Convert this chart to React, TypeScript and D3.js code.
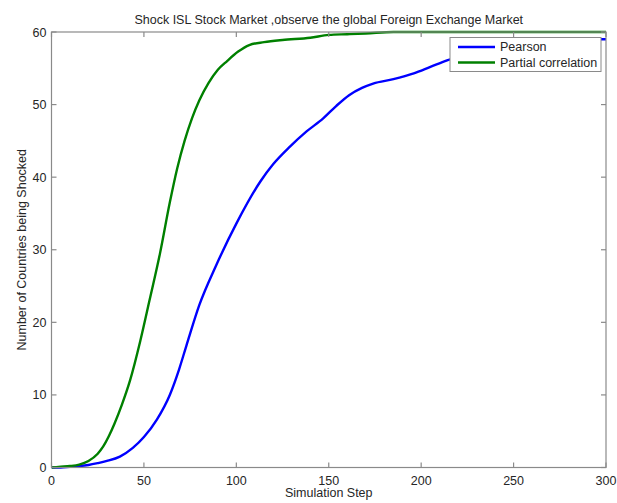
import React from "react";
import * as d3 from "d3";

const title = "Shock ISL Stock Market ,observe the global Foreign Exchange Market";
const xLabel = "Simulation Step";
const yLabel = "Number of Countries being Shocked";
const xTicks = [0, 50, 100, 150, 200, 250, 300];
const yTicks = [0, 10, 20, 30, 40, 50, 60];

const pearsonSteps = [0, 5, 10, 15, 20, 25, 30, 37, 44, 50, 57, 64, 69, 73, 80, 89, 100, 113, 120, 129, 138, 147, 154, 161, 168, 174, 185, 196, 205, 214, 230, 250, 270, 290, 300];
const pearsonValues = [0, 0, 0.1, 0.2, 0.35, 0.6, 0.9, 1.5, 2.7, 4.2, 6.6, 10, 13.5, 16.8, 22.4, 27.8, 33.6, 39.4, 41.8, 44.2, 46.3, 48.1, 49.8, 51.3, 52.3, 52.9, 53.5, 54.3, 55.2, 56.1, 57.2, 58.1, 58.6, 59, 59];

const partialSteps = [0, 5, 10, 15, 20, 25, 28, 31, 34, 38, 42.5, 48, 53, 58.7, 64, 68, 72, 76, 80, 85, 90, 95, 101, 107, 115, 125, 140, 150, 160, 170, 185, 200, 300];
const partialValues = [0, 0.1, 0.2, 0.4, 0.9, 1.9, 2.9, 4.3, 6, 8.6, 12, 17.4, 23, 29.5, 36.5, 41.2, 45, 48.1, 50.6, 53, 54.8, 56, 57.3, 58.2, 58.6, 58.9, 59.2, 59.6, 59.7, 59.8, 60, 60, 60];

const seriesNames = ["Pearson", "Partial correlation"];
const seriesColors = ["#0000ff", "#008000"];

const W = 617;
const H = 503;
const M = { left: 51.5, right: 606, top: 32, bottom: 467.5 };
const AX = "#8a8a8a";
const TXT = "#262626";
const FONT = "Arial, 'Liberation Sans', sans-serif";

export default function App() {
  const x = d3.scaleLinear().domain([0, 300]).range([M.left, M.right]);
  const y = d3.scaleLinear().domain([0, 60]).range([M.bottom, M.top]);
  const line = d3
    .line<[number, number]>()
    .x((d) => x(d[0]))
    .y((d) => y(d[1]))
    .curve(d3.curveMonotoneX);

  const series = [
    pearsonSteps.map((s, i) => [s, pearsonValues[i]] as [number, number]),
    partialSteps.map((s, i) => [s, partialValues[i]] as [number, number]),
  ];

  const tl = 5;
  const lg = { x: 450, y: 37.5, w: 151, h: 34 };

  return (
    <svg
      width={W}
      height={H}
      style={{ position: "absolute", left: 0, top: 0, background: "#fff" }}
      fontFamily={FONT}
    >
      <rect x={0} y={0} width={W} height={H} fill="#fff" />
      <defs>
        <clipPath id="plot">
          <rect x={M.left} y={M.top - 2} width={M.right - M.left} height={M.bottom - M.top + 4} />
        </clipPath>
      </defs>
      <g clipPath="url(#plot)">
        {series.map((d, i) => (
          <path key={i} d={line(d) || ""} fill="none" stroke={seriesColors[i]} strokeWidth={2.4} strokeLinejoin="round" />
        ))}
      </g>
      <rect x={M.left} y={M.top} width={M.right - M.left} height={M.bottom - M.top} fill="none" stroke={AX} strokeWidth={1.2} />
      {xTicks.map((t) => (
        <g key={"x" + t}>
          <line x1={x(t)} x2={x(t)} y1={M.bottom} y2={M.bottom - tl} stroke={AX} strokeWidth={1.2} />
          <line x1={x(t)} x2={x(t)} y1={M.top} y2={M.top + tl} stroke={AX} strokeWidth={1.2} />
          <text x={x(t)} y={M.bottom + 17} textAnchor="middle" fontSize={12.5} fill={TXT}>
            {t}
          </text>
        </g>
      ))}
      {yTicks.map((t) => (
        <g key={"y" + t}>
          <line x1={M.left} x2={M.left + tl} y1={y(t)} y2={y(t)} stroke={AX} strokeWidth={1.2} />
          <line x1={M.right} x2={M.right - tl} y1={y(t)} y2={y(t)} stroke={AX} strokeWidth={1.2} />
          <text x={M.left - 5} y={y(t) + 4.5} textAnchor="end" fontSize={12.5} fill={TXT}>
            {t}
          </text>
        </g>
      ))}
      <text x={(M.left + M.right) / 2} y={24} textAnchor="middle" fontSize={12.5} fill={TXT}>
        {title}
      </text>
      <text x={(M.left + M.right) / 2} y={497} textAnchor="middle" fontSize={12.5} fill={TXT}>
        {xLabel}
      </text>
      <text
        transform={`translate(26,${(M.top + M.bottom) / 2}) rotate(-90)`}
        textAnchor="middle"
        fontSize={12.5}
        fill={TXT}
      >
        {yLabel}
      </text>
      <rect x={lg.x} y={lg.y} width={lg.w} height={lg.h} fill="#fff" stroke={AX} strokeWidth={1} />
      {seriesNames.map((n, i) => (
        <g key={n}>
          <line x1={458} x2={495} y1={lg.y + 9.5 + i * 15.5} y2={lg.y + 9.5 + i * 15.5} stroke={seriesColors[i]} strokeWidth={2.4} />
          <text x={500} y={lg.y + 13.8 + i * 15.5} fontSize={12.5} fill={TXT}>
            {n}
          </text>
        </g>
      ))}
    </svg>
  );
}
